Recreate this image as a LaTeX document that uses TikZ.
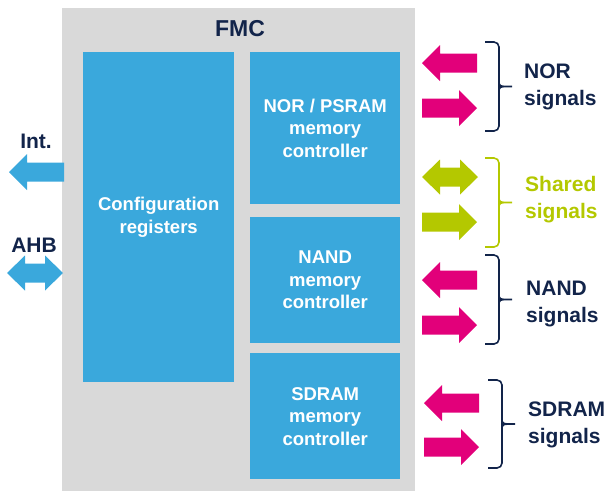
\documentclass[tikz,border=0pt]{standalone}
\usepackage{fontspec}
\setmainfont{Liberation Sans}

\definecolor{fmcblue}{HTML}{3AA8DC}
\definecolor{fmcgray}{HTML}{D9D9D9}
\definecolor{sigpink}{HTML}{E2007A}
\definecolor{siglime}{HTML}{B4C800}
\definecolor{signavy}{HTML}{12244A}

\tikzset{
  block/.style={fill=fmcblue, text=white, font=\bfseries\fontsize{18.5}{22.5}\selectfont,
    align=center, inner sep=0pt, anchor=north west},
  siglabel/.style={font=\bfseries\fontsize{21}{27}\selectfont, align=left, anchor=west, inner sep=0pt},
  % block arrows, 55 long
  pics/larr/.style={code={
    \fill (0,0) -- (18,-18) -- (18,-9.5) -- (55,-9.5) -- (55,9.5) -- (18,9.5) -- (18,18) -- cycle;}},
  pics/rarr/.style={code={
    \fill (55,0) -- (37,-18) -- (37,-9.5) -- (0,-9.5) -- (0,9.5) -- (37,9.5) -- (37,18) -- cycle;}},
  pics/darr/.style={code={
    \fill (0,0) -- (18,-17.5) -- (18,-9.5) -- (38,-9.5) -- (38,-17.5) -- (56,0)
      -- (38,17.5) -- (38,9.5) -- (18,9.5) -- (18,17.5) -- cycle;}},
}

% bracket round a pair of signal arrows: x, top, bottom, colour
\newcommand{\sigbrace}[4]{
  \draw[#4, line width=1.6pt, rounded corners=5pt] (#1,#2) -- ({#1+14},#2) -- ({#1+14},#3) -- (#1,#3);
  \draw[#4, line width=1.6pt] ({#1+14},{(#2+#3)/2-6}) .. controls ({#1+14},{(#2+#3)/2}) .. ({#1+27},{(#2+#3)/2})
    .. controls ({#1+14},{(#2+#3)/2}) .. ({#1+14},{(#2+#3)/2+6});
}

\begin{document}
\begin{tikzpicture}[x=1pt, y=-1pt]
  \useasboundingbox (0,0) rectangle (611,491);

  % FMC and its blocks
  \node (fmc) [fill=fmcgray, minimum width=353pt, minimum height=483pt, anchor=north west, inner sep=0pt] at (62,8) {};
  \node (fmctitle) [text=signavy, font=\bfseries\fontsize{23}{27}\selectfont] at (240,29) {FMC};
  \node (cfg) [block, minimum width=151pt, minimum height=330pt] at (83,52) {Configuration\\registers};
  \node (nor) [block, minimum width=150pt, minimum height=152pt] at (250,52) {NOR / PSRAM\\memory\\controller};
  \node (nand) [block, minimum width=150pt, minimum height=126pt] at (250,217) {NAND\\memory\\controller};
  \node (sdram) [block, minimum width=150pt, minimum height=126pt] at (250,353) {SDRAM\\memory\\controller};

  % left side
  \node (int) [text=signavy, font=\bfseries\fontsize{21}{25}\selectfont] at (36,141) {Int.};
  \pic (intarr) [fmcblue] at (9,172) {larr};
  \node (ahb) [text=signavy, font=\bfseries\fontsize{21}{25}\selectfont] at (34,245) {AHB};
  \pic (ahbarr) [fmcblue] at (7,273) {darr};

  % right side: signal arrows
  \foreach \x/\y/\nm in {422/63/norin, 422/280/nandin, 424/403/sdin}
    \pic (\nm) [sigpink] at (\x,\y) {larr};
  \foreach \x/\y/\nm in {422/108/norout, 422/325/nandout, 424/447/sdout}
    \pic (\nm) [sigpink] at (\x,\y) {rarr};
  \pic (shio) [siglime] at (422,177) {darr};
  \pic (shout) [siglime] at (422,222) {rarr};

  % brackets and labels
  \sigbrace{485}{42}{131}{signavy}
  \sigbrace{485}{158}{247}{siglime}
  \sigbrace{485}{255}{344}{signavy}
  \sigbrace{488}{380}{468}{signavy}
  \node (norsig) [siglabel, text=signavy] at (524,87) {NOR\\signals};
  \node (shsig) [siglabel, text=siglime] at (525,200) {Shared\\signals};
  \node (nandsig) [siglabel, text=signavy] at (526,304) {NAND\\signals};
  \node (sdsig) [siglabel, text=signavy] at (528,425) {SDRAM\\signals};
\end{tikzpicture}
\end{document}
